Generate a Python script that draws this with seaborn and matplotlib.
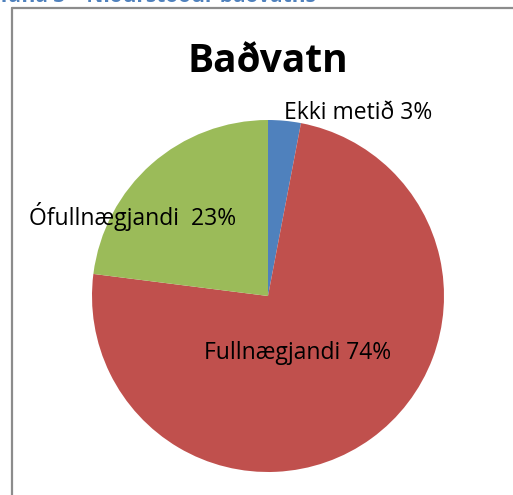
import matplotlib
matplotlib.use("Agg")
import matplotlib.pyplot as plt
import seaborn as sns
from matplotlib.lines import Line2D

sns.set_theme(style="white")
plt.rcParams['font.family'] = ['Open Sans', 'DejaVu Sans']

categories = ["Ekki metið", "Fullnægjandi", "Ófullnægjandi"]
values = [3, 74, 23]
label_texts = ["Ekki metið 3%", "Fullnægjandi 74%", "Ófullnægjandi  23%"]
colors = ["#4F81BD", "#C0504D", "#9BBB59"]
title = "Baðvatn"
caption = "Tafla 3 – Niðurstöður baðvatns"

W, H = 513, 495
fig = plt.figure(figsize=(W / 100, H / 100), dpi=100)
fig.patch.set_facecolor("white")

def px(x, y):
    return x / W, 1 - y / H

cx, cy, r = 268, 296, 176
ax = fig.add_axes([(cx - r) / W, (H - cy - r) / H, 2 * r / W, 2 * r / H])
ax.pie(values, colors=colors, startangle=90, counterclock=False, radius=1,
       wedgeprops=dict(linewidth=0))
ax.set_xlim(-1, 1)
ax.set_ylim(-1, 1)
ax.axis("off")

# frame
fig.add_artist(Line2D([11.5 / W, 11.5 / W], [0, 1 - 8 / H], color="#8c8c8c", lw=1.6,
                      transform=fig.transFigure))
fig.add_artist(Line2D([11.5 / W, 1], [1 - 8 / H, 1 - 8 / H], color="#8c8c8c", lw=1.6,
                      transform=fig.transFigure))

# caption (cut off at top, as in the reference)
fig.text(*px(-2, 2.5), caption, color="#4F81BD", fontweight="bold", fontsize=15,
         ha="left", va="baseline")

fig.text(*px(268, 62), title, fontweight="bold", fontsize=28, ha="center", va="center",
         color="black")

fig.text(*px(358, 113), label_texts[0], fontsize=16.5, ha="center", va="center", color="black")
fig.text(*px(298, 353), label_texts[1], fontsize=16.5, ha="center", va="center", color="black")
fig.text(*px(133, 217), label_texts[2], fontsize=16.5, ha="center", va="center", color="black")

fig.savefig("out.png", dpi=100, facecolor="white")
